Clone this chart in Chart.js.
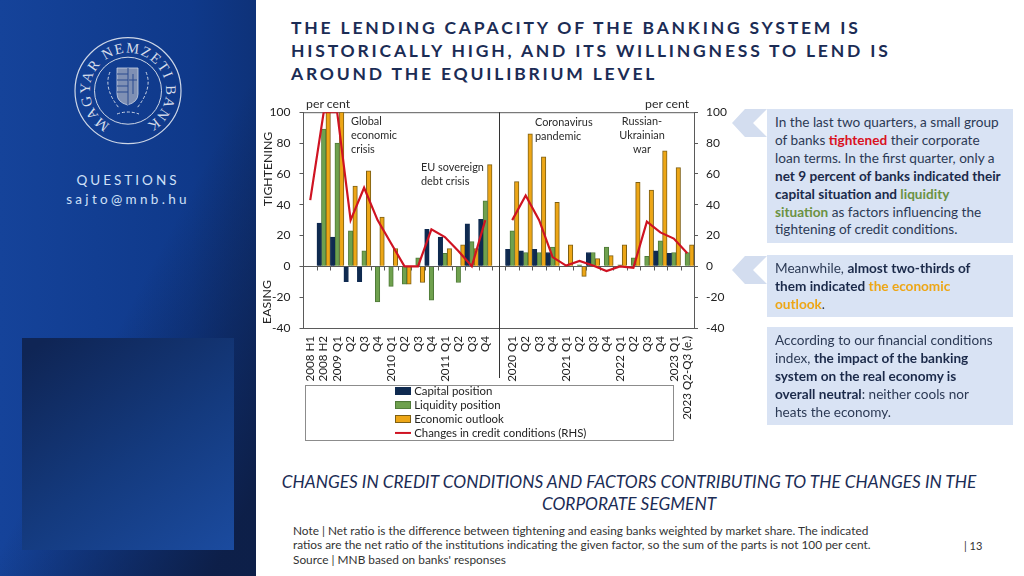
<!DOCTYPE html>
<html>
<head>
<meta charset="utf-8">
<title>Lending capacity of the banking system</title>
<script src="https://cdn.jsdelivr.net/npm/chart.js@4"></script>
<style>
    html, body { margin: 0; padding: 0; background: #fff; }
    body { position: relative; width: 1024px; height: 576px; overflow: hidden; font-family: Lato, sans-serif; color: #2a3a58; }
    .abs { position: absolute; white-space: nowrap; }

    /* Left side panel */
    #side { position: absolute; left: 0; top: 0; width: 256px; height: 576px; background: linear-gradient(to right, #15439a, #0f398a 75%, #0e3279); }
    #sideShade { position: absolute; left: 0; top: 0; width: 256px; height: 576px; background: linear-gradient(118deg, rgba(13,30,70,0) 52%, rgba(13,30,70,.95) 92%); }
    #sideSquare { position: absolute; left: 22px; top: 338px; width: 212px; height: 212px; background: linear-gradient(145deg, #0f2555 5%, #143a7e 55%, #1b4b9f 100%); }
    #logo { position: absolute; left: 0; top: 0; }
    .contact { position: absolute; left: 0; width: 256px; text-align: center; color: #cfe0f8; font-size: 13.5px; }

    #title { left: 291px; top: 16px; font-size: 17.5px; line-height: 23px; font-weight: 700; letter-spacing: 2.8px; color: #1b2c55; }
    #chartBox { position: absolute; left: 256px; top: 96px; width: 480px; height: 350px; }
    #legendFrame { position: absolute; left: 305px; top: 385px; width: 367px; height: 54px; border: 1px solid #8c8c8c; background: #fff; }

    .note { font-size: 10.9px; line-height: 14px; color: #2b2b2b; }
    .perCent { font-size: 12.3px; color: #2b2b2b; }
    .axisWord { font-size: 12.3px; color: #222; transform: translate(-50%, -50%) rotate(-90deg); }

    .box { position: absolute; left: 767px; width: 246px; background: #d9e3f4; }
    .box div { position: absolute; left: 8px; top: 5px; font-size: 13.6px; line-height: 17.9px; white-space: nowrap; color: #2c3a55; }
    .box b { color: #1b2a4a; }
    .chev { position: absolute; left: 732px; width: 35px; height: 28px; background: #d3ddef; clip-path: polygon(0 50%, 37% 0, 100% 0, 60% 50%, 100% 100%, 37% 100%); }

    #subtitle { position: absolute; left: 270px; top: 471px; width: 718px; text-align: center; font-size: 17.3px; line-height: 22px; font-style: italic; color: #1b2c55; }
    #footnote { left: 293px; top: 524px; font-size: 11.85px; line-height: 14.3px; color: #333; }
    #pageNo { left: 964px; top: 539px; font-size: 11px; color: #333; }
</style>
</head>
<body>
<div id="side"></div>
<div id="sideShade"></div>
<div id="sideSquare"></div>

<svg id="logo" width="256" height="180" fill="none" stroke="#cdd6e6">
    <circle cx="128" cy="90.7" r="53" stroke-width="1.2"/>
    <circle cx="128" cy="90.7" r="33.5" stroke-width="1"/>
    <path id="sealArc" d="M 110.2 124.3 A 38 38 0 1 1 145.8 124.3" stroke="none"/>
    <text font-family="Liberation Serif" font-size="14.5" fill="#d5dcea" stroke="none">
        <textPath href="#sealArc" textLength="200" lengthAdjust="spacing">MAGYAR NEMZETI BANK</textPath>
    </text>
    <!-- crest, only roughly -->
    <path d="M117 68 h21 v26 q0 8 -10.500 11 q-10.500 -3 -10.500 -11 z" fill="#7f90b4" stroke-width=".8"/>
    <path d="M117 74 h11 M117 80 h11 M117 86 h11 M117 92 h11 M128 68 v37 M133 74 v20 M129 80 h8" stroke="#2b4a8f" stroke-width="1"/>
    <path d="M110 72 q-7 16 9 36 M146 72 q7 16 -9 36 M117 114 q11 -4 22 0" stroke-width="1" stroke-dasharray="3 2"/>
</svg>

<div class="contact" style="top:172px;letter-spacing:3px">QUESTIONS</div>
<div class="contact" style="top:191px;letter-spacing:3.3px">sajto@mnb.hu</div>

<div id="title" class="abs">THE LENDING CAPACITY OF THE BANKING SYSTEM IS<br>HISTORICALLY HIGH, AND ITS WILLINGNESS TO LEND IS<br>AROUND THE EQUILIBRIUM LEVEL</div>

<div id="legendFrame"></div>
<div id="chartBox"><canvas id="creditChart" width="480" height="350"></canvas></div>

<div class="abs perCent" style="left:306px;top:96px">per cent</div>
<div class="abs perCent" style="left:645px;top:96px">per cent</div>
<div class="abs axisWord" style="left:267px;top:169px">TIGHTENING</div>
<div class="abs axisWord" style="left:266px;top:302px">EASING</div>
<div class="abs note" style="left:351px;top:114px">Global<br>economic<br>crisis</div>
<div class="abs note" style="left:421px;top:160px">EU sovereign<br>debt crisis</div>
<div class="abs note" style="left:535px;top:115px">Coronavirus<br>pandemic</div>
<div class="abs note" style="left:612px;top:114px;width:60px;text-align:center">Russian-<br>Ukrainian<br>war</div>

<div class="chev" style="top:109px"></div>
<div class="box" style="top:109px;height:134px"><div>In the last two quarters, a small group<br>of banks <b style="color:#d9121f">tightened</b> their corporate<br>loan terms. In the first quarter, only a<br><b>net 9 percent of banks indicated their<br>capital situation and <span style="color:#6b9243">liquidity<br>situation</span></b> as factors influencing the<br>tightening of credit conditions.</div></div>

<div class="chev" style="top:256px"></div>
<div class="box" style="top:255px;height:62px"><div>Meanwhile, <b>almost two-thirds of<br>them indicated <span style="color:#eda616">the economic<br>outlook</span></b>.</div></div>

<div class="box" style="top:327px;height:98px"><div>According to our financial conditions<br>index, <b>the impact of the banking<br>system on the real economy is<br>overall neutral</b>: neither cools nor<br>heats the economy.</div></div>

<div id="subtitle">CHANGES IN CREDIT CONDITIONS AND FACTORS CONTRIBUTING TO THE CHANGES IN THE CORPORATE SEGMENT</div>
<div id="footnote" class="abs">Note | Net ratio is the difference between tightening and easing banks weighted by market share. The indicated<br>ratios are the net ratio of the institutions indicating the given factor, so the sum of the parts is not 100 per cent.<br>Source | MNB based on banks' responses</div>
<div id="pageNo" class="abs">| 13</div>

<script>
// Empty string is the gap between the two periods
const categories = ['2008 H1', '2008 H2', '2009 Q1', 'Q2', 'Q3', 'Q4', '2010 Q1', 'Q2', 'Q3', 'Q4', '2011 Q1', 'Q2', 'Q3', 'Q4', '',
    '2020 Q1', 'Q2', 'Q3', 'Q4', '2021 Q1', 'Q2', 'Q3', 'Q4', '2022 Q1', 'Q2', 'Q3', 'Q4', '2023 Q1', '2023 Q2-Q3 (e.)'];

const capitalPosition = [null, 28, 19, -10, -10, null, null, null, null, 24, 19, null, 27.5, 30.5, null,
    11, 10, 11, 9, null, null, 9, null, null, null, null, 10, 8.5, null];
const liquidityPosition = [null, 89, 80, 23, 10, -23, -13, -11.5, 5.5, -22, 8.5, -10.5, 16, 42.5, null,
    23, 9, 9, 12.5, null, 1, 9, 12.5, 1, 5.5, 6.5, 16.5, 9, 9];
const economicOutlook = [null, 100, 100, 52, 62, 32, 11.5, -11.5, -10.5, null, 11.5, 14, 11.5, 66, null,
    55, 86, 71, 41.5, 14, -6.5, 5, 7, 14, 54.5, 49.5, 75, 64, 14];
const creditConditions = [43, 100, 100, 30, 51, 30, 15, 0, 0, 24, 19, 10, 0, 30, null,
    30, 46, 30, 6, 0.5, 3.5, 0.5, -3, 0, -1, 29, 22, 18, 8.5];

const yTicks = [-40, -20, 0, 20, 40, 60, 80, 100];

const axisColor = '#5a5a5a';
const tickFont = { family: 'Lato', size: 12 };

// Small picture used as a legend key, so bars get a box and the line gets a line
function legendKey(fill, stroke, isLine) {
    const key = document.createElement('canvas');
    key.width = 16;
    key.height = 8;
    const ctx = key.getContext('2d');
    if (isLine) {
        ctx.fillStyle = fill;
        ctx.fillRect(0, 3, 16, 2);
    } else {
        ctx.fillStyle = fill;
        ctx.fillRect(0, 0, 16, 8);
        ctx.strokeStyle = stroke;
        ctx.strokeRect(0.5, 0.5, 15, 7);
    }
    return key;
}

// Frame, zero line, category ticks and the divider between the two periods
const frameLines = {
    id: 'frameLines',
    beforeDatasetsDraw(chart) {
        const { ctx, chartArea, scales } = chart;
        const zero = Math.round(scales.y.getPixelForValue(0)) + 0.5;
        const step = scales.x.getPixelForValue(1) - scales.x.getPixelForValue(0);
        ctx.save();
        ctx.strokeStyle = axisColor;
        ctx.lineWidth = 1;
        ctx.beginPath();
        ctx.moveTo(chartArea.left, chartArea.top + 0.5);
        ctx.lineTo(chartArea.right, chartArea.top + 0.5);
        ctx.moveTo(chartArea.left, chartArea.bottom + 0.5);
        ctx.lineTo(chartArea.right, chartArea.bottom + 0.5);
        ctx.moveTo(chartArea.left, zero);
        ctx.lineTo(chartArea.right, zero);
        categories.forEach((c, i) => {
            const x = Math.round(scales.x.getPixelForValue(i) + step / 2) + 0.5;
            ctx.moveTo(x, zero);
            ctx.lineTo(x, zero + 4);
        });
        ctx.stroke();
        ctx.restore();
    },
    afterDatasetsDraw(chart) {
        const { ctx, chartArea, scales } = chart;
        const x = Math.round(scales.x.getPixelForValue(categories.indexOf(''))) + 0.5;
        ctx.save();
        ctx.strokeStyle = '#333';
        ctx.beginPath();
        ctx.moveTo(x, chartArea.top);
        ctx.lineTo(x, chartArea.bottom + 50);
        ctx.stroke();
        ctx.restore();
    },
    // The legend sits in its own box under the labels
    afterLayout(chart) {
        chart.legend.left = 139;
        chart.legend.top = 287;
        chart.legend.right = 480;
        chart.legend.bottom = 350;
    }
};

new Chart(document.getElementById('creditChart'), {
    data: {
        labels: categories,
        datasets: [
            { type: 'bar', label: 'Capital position', data: capitalPosition, backgroundColor: '#0f2a50', borderColor: '#0f2a50', borderWidth: 1, order: 1 },
            { type: 'bar', label: 'Liquidity position', data: liquidityPosition, backgroundColor: '#6fa14e', borderColor: '#4f7a38', borderWidth: 1, order: 1 },
            { type: 'bar', label: 'Economic outlook', data: economicOutlook, backgroundColor: '#eda616', borderColor: '#7d5f14', borderWidth: 1, order: 1 },
            { type: 'line', label: 'Changes in credit conditions (RHS)', data: creditConditions, yAxisID: 'y2', borderColor: '#cf1322', borderWidth: 2.2, pointRadius: 0, tension: 0, spanGaps: false, order: 0 }
        ]
    },
    options: {
        responsive: false,
        animation: false,
        layout: { padding: { top: 15, left: 0, right: 0, bottom: 0 } },
        datasets: { bar: { barPercentage: 1, categoryPercentage: 1 } },
        plugins: {
            tooltip: { enabled: false },
            legend: {
                position: 'chartArea',
                align: 'start',
                labels: {
                    usePointStyle: true,
                    pointStyleWidth: 11,
                    padding: 2.5,
                    color: '#222',
                    font: { family: 'Lato', size: 11.4 },
                    generateLabels: chart => chart.data.datasets.map(ds => ({
                        text: ds.label,
                        pointStyle: legendKey(ds.type === 'line' ? ds.borderColor : ds.backgroundColor, ds.borderColor, ds.type === 'line'),
                        fontColor: '#222',
                        lineWidth: 0
                    }))
                }
            }
        },
        scales: {
            x: {
                grid: { display: false, drawTicks: false },
                border: { display: false },
                afterFit: scale => { scale.height = 118; },
                ticks: {
                    autoSkip: false,
                    minRotation: 90,
                    maxRotation: 90,
                    padding: 8,
                    color: '#222',
                    font: { family: 'Lato', size: 11.6 }
                }
            },
            y: {
                position: 'left',
                min: -40,
                max: 100,
                afterFit: scale => { scale.width = 47.5; },
                afterBuildTicks: scale => { scale.ticks = yTicks.map(value => ({ value })); },
                grid: { drawOnChartArea: false, tickLength: 4, color: axisColor },
                border: { color: axisColor },
                ticks: { padding: 9, color: '#222', font: tickFont }
            },
            y2: {
                position: 'right',
                min: -40,
                max: 100,
                afterFit: scale => { scale.width = 42; },
                afterBuildTicks: scale => { scale.ticks = yTicks.map(value => ({ value })); },
                grid: { drawOnChartArea: false, tickLength: 4, color: axisColor },
                border: { color: axisColor },
                ticks: { padding: 8, color: '#222', font: tickFont }
            }
        }
    },
    plugins: [frameLines]
});
</script>
</body>
</html>
